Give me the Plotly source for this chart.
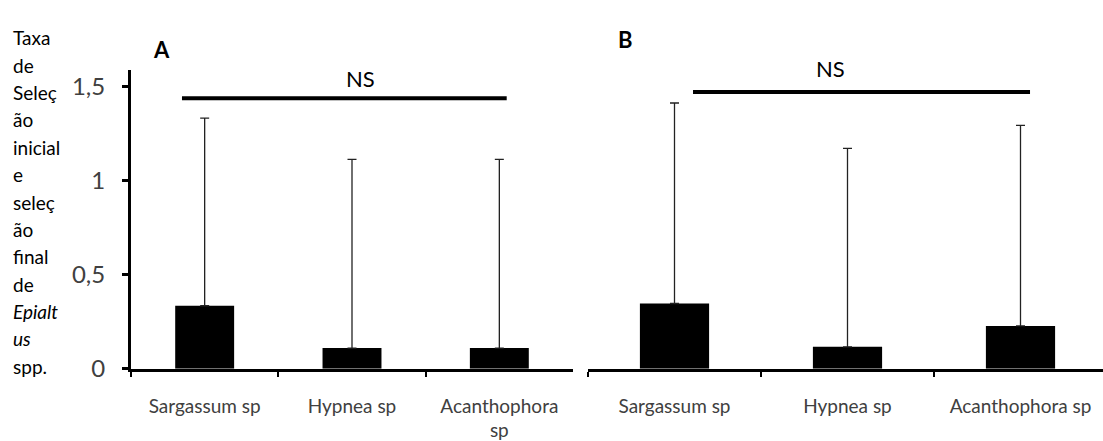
import plotly.graph_objects as go

# ---- data ----
categories = ["Sargassum sp", "Hypnea sp", "Acanthophora sp"]
tick_text_a = ["Sargassum sp", "Hypnea sp", "Acanthophora<br>sp"]
tick_text_b = ["Sargassum sp", "Hypnea sp", "Acanthophora sp"]
mean_a = [0.335, 0.110, 0.110]
upper_a = [1.332, 1.113, 1.113]
mean_b = [0.347, 0.117, 0.228]
upper_b = [1.412, 1.171, 1.293]
y_tick_vals = [0, 0.5, 1, 1.5]
y_tick_text = ["0", "0,5", "1", "1,5"]
ylabel_lines = ["Taxa", "de", "Seleç", "ão", "inicial", "e", "seleç", "ão",
                "final", "de", "<i>Epialt</i>", "<i>us</i>", "spp."]
ns_a = {"x0": -0.154, "x1": 2.05, "y": 1.437}
ns_b = {"x0": 0.107, "x1": 2.055, "y": 1.47}

W, H = 1103, 441
FONT = "Lato"
TXT = "#404040"

err_a = [u - m for u, m in zip(upper_a, mean_a)]
err_b = [u - m for u, m in zip(upper_b, mean_b)]

fig = go.Figure()
for xa, ya, mean, err in [("x", "y", mean_a, err_a), ("x2", "y2", mean_b, err_b)]:
    fig.add_trace(go.Bar(
        x=categories, y=mean, xaxis=xa, yaxis=ya, width=0.4,
        marker=dict(color="black", line=dict(width=0)),
        error_y=dict(type="data", array=err, arrayminus=[0] * len(err),
                     symmetric=False, color="#222222", thickness=1.3, width=4.5),
        showlegend=False, hoverinfo="skip"))

axis_common = dict(type="category", tickson="boundaries", showline=True,
                   linewidth=3, linecolor="black", ticks="outside", ticklen=5,
                   tickwidth=2, tickcolor="black", showgrid=False, zeroline=False,
                   tickfont=dict(family=FONT, size=19, color=TXT),
                   ticklabelstandoff=18,
                   categoryorder="array", categoryarray=categories,
                   tickmode="array", tickvals=categories)

fig.update_layout(
    width=W, height=H, margin=dict(l=0, r=0, t=0, b=0),
    paper_bgcolor="white", plot_bgcolor="white",
    bargap=0.6,
    xaxis=dict(domain=[131 / W, 573 / W], range=[-0.5, 2.5],
               ticktext=tick_text_a, anchor="y", **axis_common),
    xaxis2=dict(domain=[588 / W, 1.0], range=[-0.5, 2.5 - (588 + 3 * 173 - W) / 173],
                ticktext=tick_text_b, anchor="y2", **axis_common),
    yaxis=dict(domain=[61 / H, 369 / H], range=[0, 1.588], showline=True,
               linewidth=3, linecolor="black", ticks="outside", ticklen=6,
               tickwidth=3, tickcolor="black", showgrid=False, zeroline=False,
               tickmode="array", tickvals=y_tick_vals, ticktext=y_tick_text,
               tickfont=dict(family=FONT, size=24, color=TXT),
               ticklabelstandoff=12, anchor="x"),
    yaxis2=dict(domain=[61 / H, 369 / H], range=[0, 1.588], visible=False,
                anchor="x2"),
)

shapes = []
for ns, xr, yr in [(ns_a, "x", "y"), (ns_b, "x2", "y2")]:
    shapes.append(dict(type="line", xref=xr, yref=yr, x0=ns["x0"], x1=ns["x1"],
                       y0=ns["y"], y1=ns["y"], line=dict(color="black", width=4)))
fig.update_layout(shapes=shapes)

ann = []
for i, line in enumerate(ylabel_lines):
    ann.append(dict(text=line, xref="paper", yref="paper", x=11 / W,
                    y=1 - (39 + 28.2 * i) / H, xanchor="left", yanchor="middle",
                    showarrow=False, font=dict(family=FONT, size=19, color="black")))
ann += [
    dict(text="<b>A</b>", xref="paper", yref="paper", x=151 / W, y=1 - 35 / H,
         showarrow=False, font=dict(family=FONT, size=22, color="black")),
    dict(text="<b>B</b>", xref="paper", yref="paper", x=625 / W, y=1 - 24.5 / H,
         showarrow=False, font=dict(family=FONT, size=22, color="black")),
    dict(text="NS", xref="paper", yref="paper", x=344 / W, y=1 - 64.5 / H,
         showarrow=False, font=dict(family=FONT, size=22, color="black")),
    dict(text="NS", xref="paper", yref="paper", x=847 / W, y=1 - 55 / H,
         showarrow=False, font=dict(family=FONT, size=22, color="black")),
]
fig.update_layout(annotations=ann)

fig.write_html("out.html")
